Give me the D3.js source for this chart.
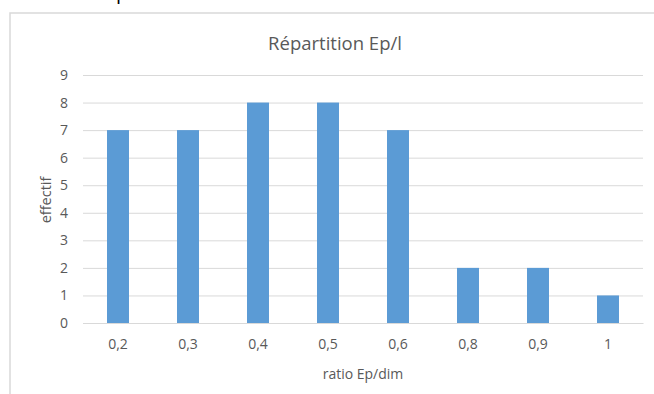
<!DOCTYPE html>
<html><head><meta charset="utf-8">
<script src="https://cdn.jsdelivr.net/npm/d3@7"></script>
<style>html,body{margin:0;padding:0;background:#fff;overflow:hidden}</style>
</head><body>
<svg id="c" width="654" height="394"></svg>
<script>
const categories = ["0,2","0,3","0,4","0,5","0,6","0,8","0,9","1"];
const values = [7,7,8,8,7,2,2,1];
const yTicks = [0,1,2,3,4,5,6,7,8,9];
const title = "Répartition Ep/l";
const xTitle = "ratio Ep/dim";
const yTitle = "effectif";

const svg = d3.select("#c");
const font = "Open Sans, Noto Sans, sans-serif";
const grey = "#595959";

// stray text fragment above the frame (cut off in the reference too)
svg.append("text").attr("x",116).attr("y",-1).attr("font-family",font)
  .attr("font-size",20).attr("fill","#000").text("p");

// frame
svg.append("rect").attr("x",10).attr("y",13).attr("width",700).attr("height",420)
  .attr("fill","#fff").attr("stroke","#d9d9d9").attr("stroke-width",1.5);

const m = {l:83, r:643, t:75, b:323};
const x = d3.scaleBand().domain(categories).range([m.l,m.r]).paddingInner(0.686).paddingOuter(0.343);
const y = d3.scaleLinear().domain([0,9]).range([m.b,m.t]);

// gridlines
const yAxis = d3.axisLeft(y).tickValues(yTicks).tickSize(-(m.r-m.l)).tickPadding(15).tickFormat(d3.format("d"));
const gy = svg.append("g").attr("transform",`translate(${m.l},0)`).call(yAxis);
gy.select(".domain").remove();
gy.selectAll(".tick line").attr("stroke","#d9d9d9").attr("stroke-width",1);
gy.selectAll(".tick text").attr("font-family",font).attr("font-size",14).attr("fill",grey);

// bars
svg.append("g").selectAll("rect").data(values).join("rect")
  .attr("x",(d,i)=>x(categories[i]))
  .attr("y",d=>y(d))
  .attr("width",x.bandwidth())
  .attr("height",d=>y(0)-y(d))
  .attr("fill","#5b9bd5");

// x axis
const xAxis = d3.axisBottom(x).tickSize(0).tickPadding(16);
const gx = svg.append("g").attr("transform",`translate(0,${m.b})`).call(xAxis);
gx.select(".domain").attr("stroke","#d9d9d9");
gx.selectAll(".tick text").attr("font-family",font).attr("font-size",14).attr("fill",grey);

// titles
svg.append("text").attr("x",335).attr("y",50).attr("text-anchor","middle")
  .attr("font-family",font).attr("font-size",18.5).attr("fill",grey).text(title);
svg.append("text").attr("x",363).attr("y",379).attr("text-anchor","middle")
  .attr("font-family",font).attr("font-size",14).attr("fill",grey).text(xTitle);
svg.append("text").attr("transform","translate(51,200) rotate(-90)").attr("text-anchor","middle")
  .attr("font-family",font).attr("font-size",14.5).attr("fill",grey).text(yTitle);
</script>
</body></html>
